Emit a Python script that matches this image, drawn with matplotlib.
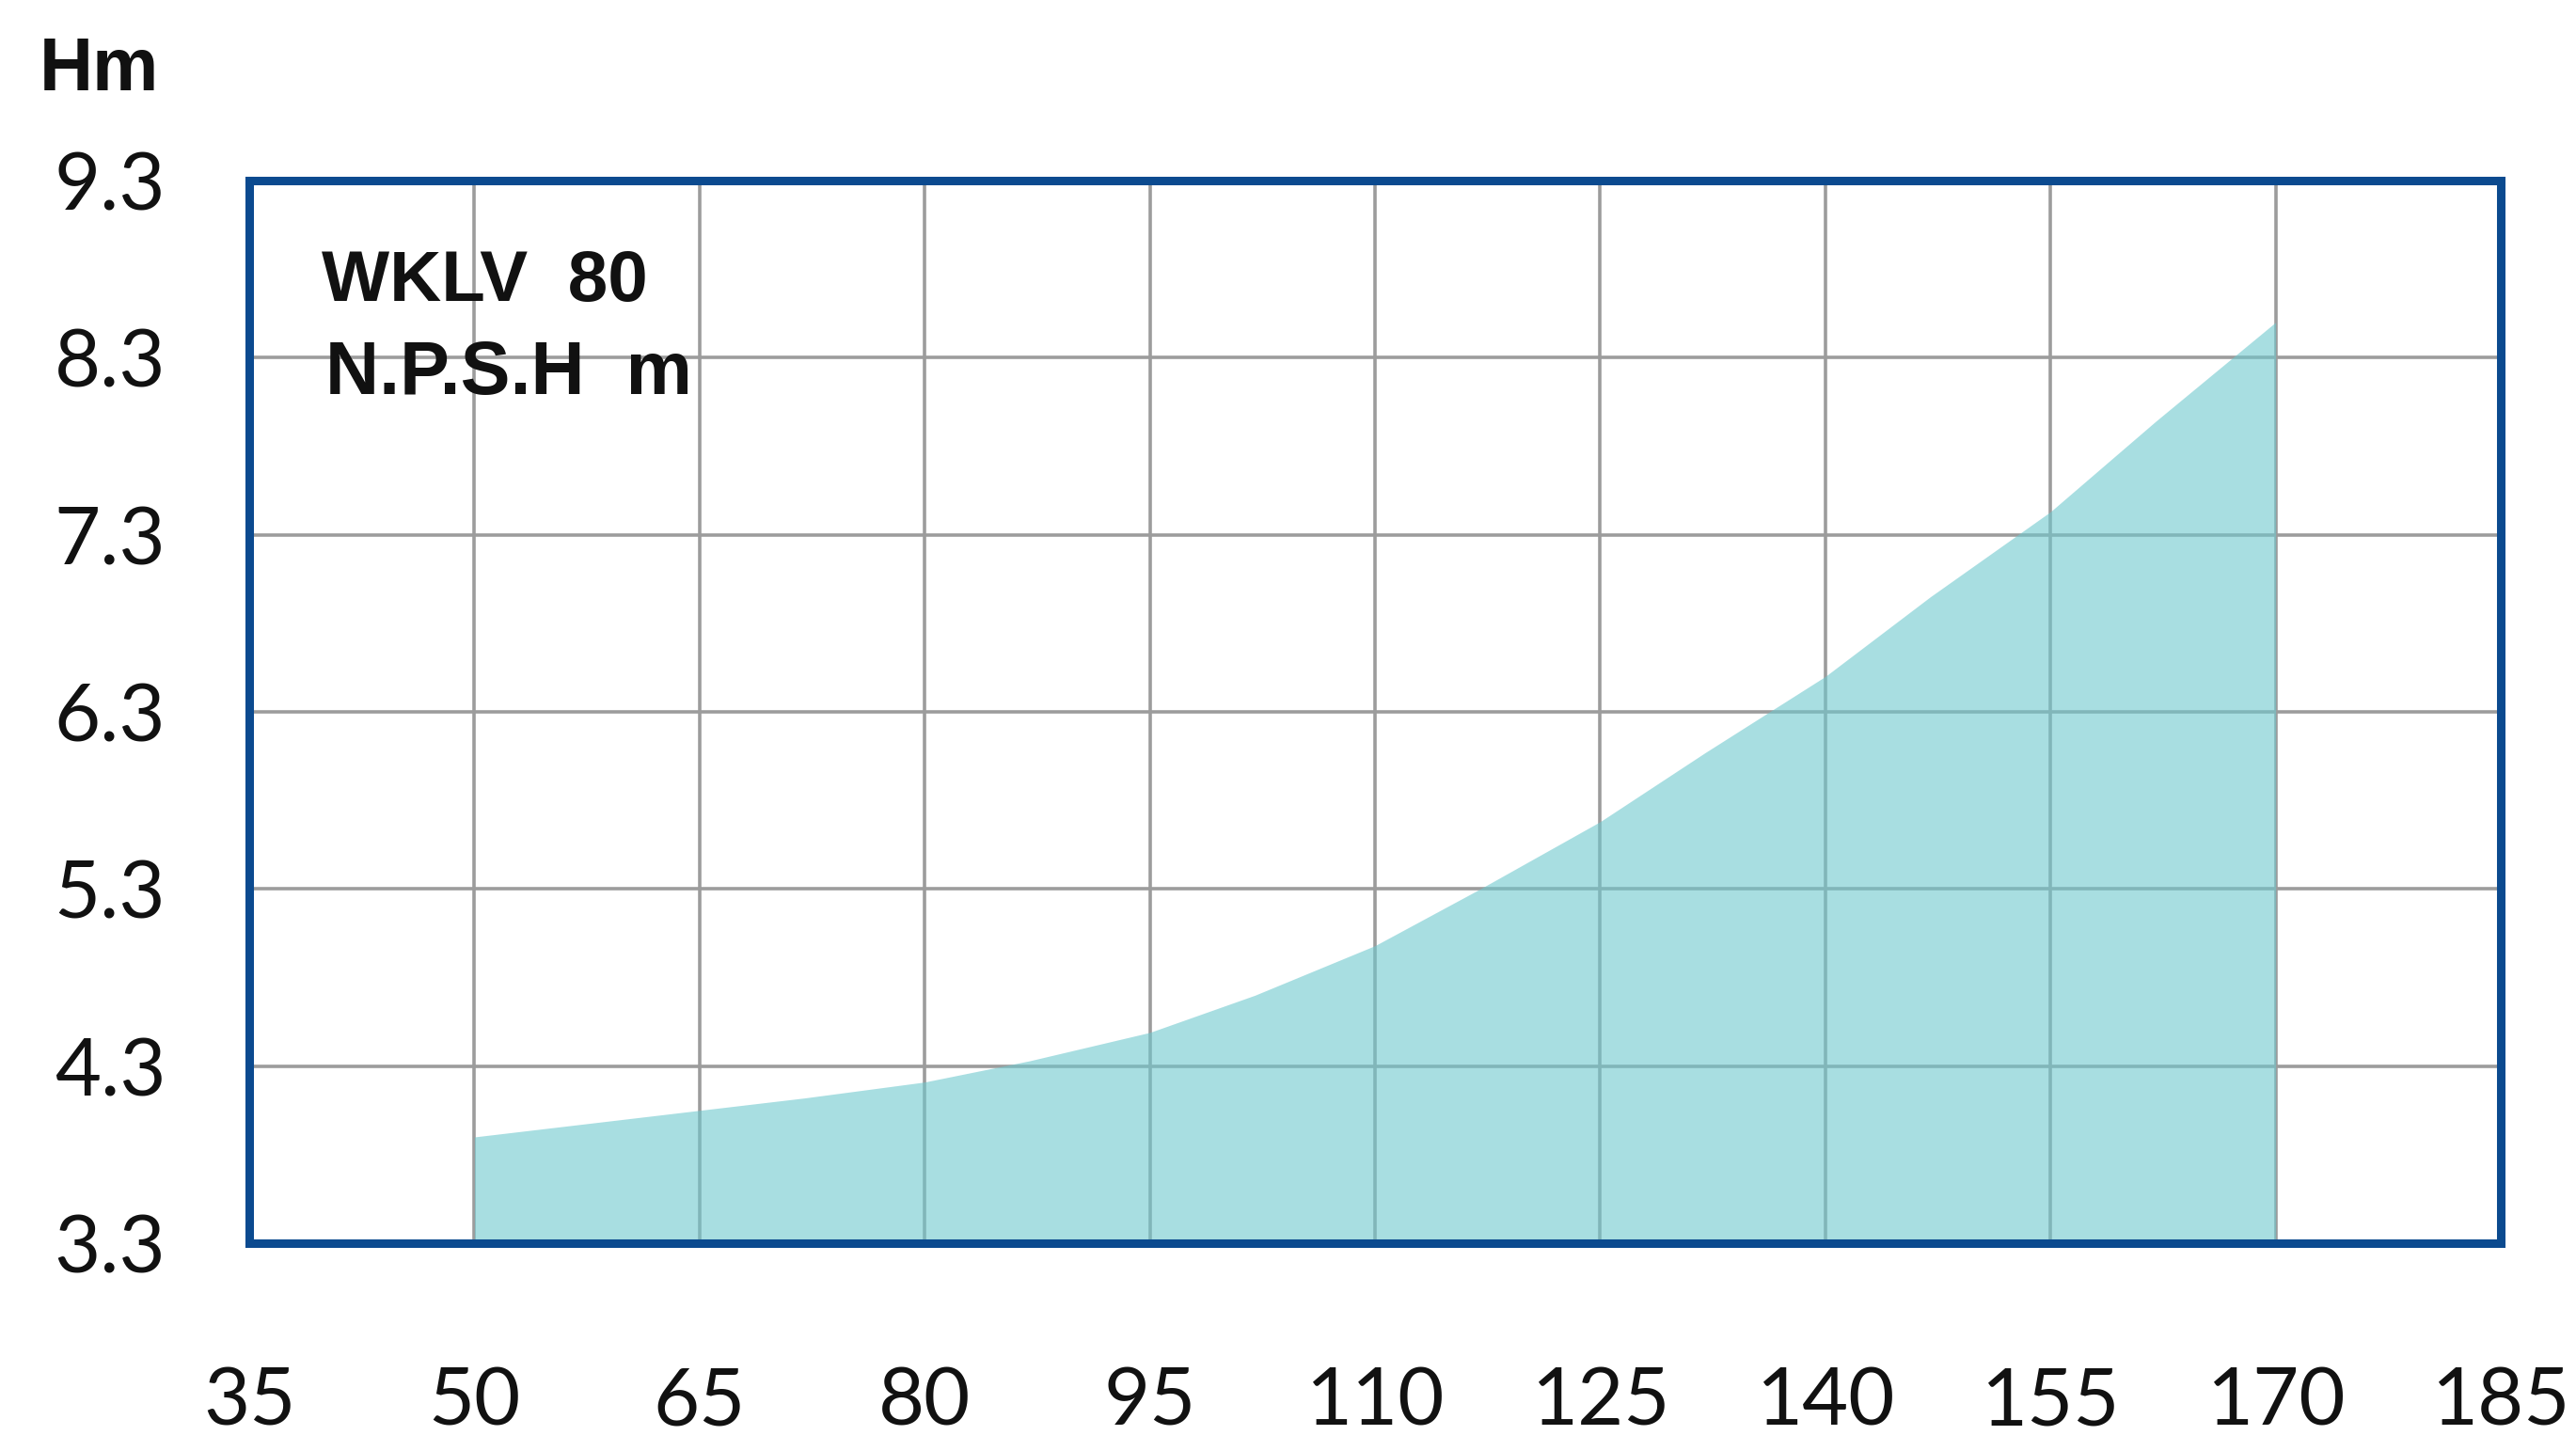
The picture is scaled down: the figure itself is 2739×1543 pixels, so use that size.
import matplotlib
matplotlib.use("Agg")
import matplotlib.pyplot as plt

# flow (x) and NPSH (m)
flow = [50, 57, 65, 72, 80, 87, 95, 102, 110, 117, 125, 132, 140, 147, 155, 162, 170]
npsh = [3.90, 3.97, 4.05, 4.12, 4.21, 4.33, 4.49, 4.70, 4.98, 5.30, 5.68, 6.07, 6.50, 6.95, 7.43, 7.94, 8.50]

x_ticks = [35, 50, 65, 80, 95, 110, 125, 140, 155, 170, 185]
y_ticks = [3.3, 4.3, 5.3, 6.3, 7.3, 8.3, 9.3]

W, H = 2739, 1543
fig = plt.figure(figsize=(W / 100, H / 100), dpi=100)
ax = fig.add_axes([265 / W, 1 - 1322 / H, (2659 - 265) / W, (1322 - 192) / H])

ax.set_xlim(35, 185)
ax.set_ylim(3.3, 9.3)
ax.set_xticks(x_ticks)
ax.set_yticks(y_ticks)
ax.set_yticklabels([f"{v:.1f}" for v in y_ticks])

ax.grid(True, color="#9c9c9c", linewidth=2.6, zorder=1)
ax.set_axisbelow(True)

# semi-transparent fill so the grid shows through
ax.fill_between(flow, 3.3, npsh, color="#6fc8ce", alpha=0.6, linewidth=0, zorder=2)

for sp in ax.spines.values():
    sp.set_color("#0b4a8f")
    sp.set_linewidth(6.5)
    sp.set_zorder(5)

tick_font = ["Lato", "DejaVu Sans"]
ax.tick_params(axis="both", length=0, labelsize=61, colors="#111111")
ax.tick_params(axis="y", pad=64)
ax.tick_params(axis="x", pad=94)
for lab in ax.get_xticklabels() + ax.get_yticklabels():
    lab.set_family(tick_font)

bold_font = ["Liberation Sans Narrow", "Liberation Sans", "DejaVu Sans"]
fig.text(42 / W, 1 - 96 / H, "Hm", fontsize=57, fontweight="bold",
         family=bold_font, color="#111111")
fig.text(342 / W, 1 - 320 / H, "WKLV  80", fontsize=55, fontweight="bold",
         family=bold_font, color="#111111")
fig.text(346 / W, 1 - 419 / H, "N.P.S.H  m", fontsize=57, fontweight="bold",
         family=bold_font, color="#111111")

fig.savefig("out.png", dpi=100, facecolor="white")
